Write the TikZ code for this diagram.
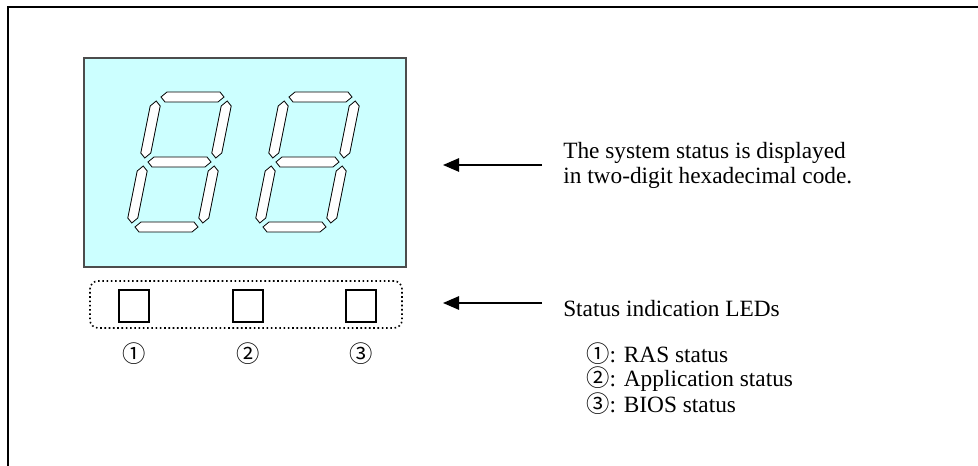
\documentclass[tikz,border=0pt]{standalone}
\usepackage{fontspec}
\setmainfont{Liberation Serif}
\newfontfamily\cjkfont{Noto Sans CJK JP}
\usetikzlibrary{arrows.meta,positioning}
\definecolor{lcdcyan}{RGB}{204,255,255}
\tikzset{
  frameln/.style={line width=1.4pt},
  lcdbox/.style={draw=black!70,fill=lcdcyan,line width=0.8pt,inner sep=0pt},
  segm/.style={draw=black,fill=white,line width=0.6pt},
  ledbox/.style={draw,fill=white,line width=1.6pt,minimum width=22.5pt,minimum height=24pt,inner sep=0pt},
  ledgrp/.style={draw,dotted,line width=1.2pt,rounded corners=6pt,inner sep=0pt},
  arr/.style={-{Triangle[length=12pt,width=10pt]},line width=1.3pt},
  txt/.style={font=\fontsize{17.5}{18.5}\selectfont,align=left,inner sep=0pt},
  cnum/.style={font=\fontsize{17.5}{18.5}\cjkfont,inner sep=0pt}
}
% one segment of a seven-segment digit (local, unslanted coordinates)
\newcommand{\hseg}[1]{\filldraw[segm] (4,#1) -- (9,#1-5) -- (62,#1-5) -- (67,#1) -- (62,#1+5) -- (9,#1+5) -- cycle;}
\newcommand{\vseg}[3]{\filldraw[segm] (#1,#2) -- (#1+5,#2+5) -- (#1+5,#3-5) -- (#1,#3) -- (#1-5,#3-5) -- (#1-5,#2+5) -- cycle;}
\begin{document}
\begin{tikzpicture}[x=0.75pt,y=-0.75pt]
  \useasboundingbox (0,0) rectangle (978,466);
  \draw[frameln] (978,7) -- (8,7) -- (8,466);

  % display and LED panel
  \node[lcdbox, minimum width=241.5pt, minimum height=156.75pt] (lcd) at (245,162.5) {};
  \foreach \dx in {0,128} {
    \begin{scope}[shift={(131+\dx,227)},xslant=0.2]
      \hseg{-130} \hseg{-65} \hseg{0}
      \vseg{0}{-126}{-69} \vseg{0}{-61}{-4}
      \vseg{71}{-126}{-69} \vseg{71}{-61}{-4}
    \end{scope}
  }
  \node[ledgrp, minimum width=234pt, minimum height=35.25pt] (ledpanel) at (246,304.5) {};
  \foreach \i/\x/\c in {1/134/①,2/248/②,3/361/③} {
    \node[ledbox] (led\i) at (\x,306) {};
    \node[cnum] (num\i) at (\x,354) {\c};
  }

  % explanations
  \node[txt, anchor=north west] (systxt) at (563,142) {The system status is displayed\\in two-digit hexadecimal code.};
  \node[txt, anchor=base west] (ledtxt) at (563,317) {Status indication LEDs};
  \node[txt, anchor=north west] (ledlist) at (586,342)
    {{\cjkfont ①}: RAS status\\{\cjkfont ②}: Application status\\{\cjkfont ③}: BIOS status};

  \coordinate (lcdtail) at (542,165);
  \coordinate (lcdtip) at (443,165);
  \coordinate (ledtail) at (542,303);
  \coordinate (ledtip) at (443,303);
  \draw[arr] (lcdtail) -- (lcdtip);
  \draw[arr] (ledtail) -- (ledtip);
\end{tikzpicture}
\end{document}
